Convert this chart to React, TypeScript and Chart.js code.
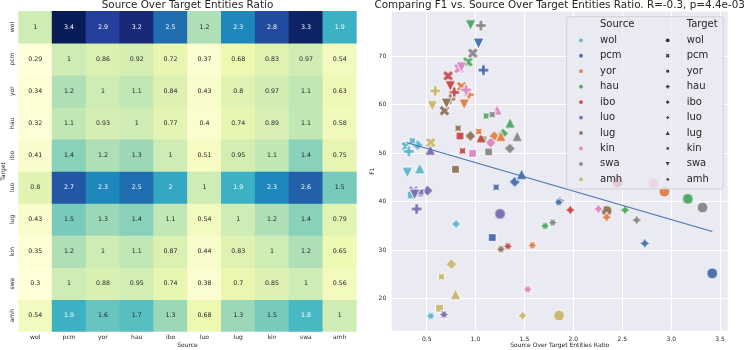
import React, { useEffect, useRef } from "react";
import { Chart, registerables } from "chart.js";

Chart.register(...registerables);

const FONT = '"DejaVu Sans", sans-serif';
const TEXT = "#262626";

const LANGS = ["wol", "pcm", "yor", "hau", "ibo", "luo", "lug", "kin", "swa", "amh"];

const HEAT_TITLE = "Source Over Target Entities Ratio";
const HEAT_X_TITLE = "Source";
const HEAT_Y_TITLE = "Target";
const SCATTER_TITLE = "Comparing F1 vs. Source Over Target Entities Ratio. R=-0.3, p=4.4e-03";
const SCATTER_X_TITLE = "Source Over Target Entities Ratio";
const SCATTER_Y_TITLE = "F1";

// Heatmap rows (Target) x columns (Source), annotated ratios
const heatWol = [1, 3.4, 2.9, 3.2, 2.5, 1.2, 2.3, 2.8, 3.3, 1.9];
const heatPcm = [0.29, 1, 0.86, 0.92, 0.72, 0.37, 0.68, 0.83, 0.97, 0.54];
const heatYor = [0.34, 1.2, 1, 1.1, 0.84, 0.43, 0.8, 0.97, 1.1, 0.63];
const heatHau = [0.32, 1.1, 0.93, 1, 0.77, 0.4, 0.74, 0.89, 1.1, 0.58];
const heatIbo = [0.41, 1.4, 1.2, 1.3, 1, 0.51, 0.95, 1.1, 1.4, 0.75];
const heatLuo = [0.8, 2.7, 2.3, 2.5, 2, 1, 1.9, 2.3, 2.6, 1.5];
const heatLug = [0.43, 1.5, 1.3, 1.4, 1.1, 0.54, 1, 1.2, 1.4, 0.79];
const heatKin = [0.35, 1.2, 1, 1.1, 0.87, 0.44, 0.83, 1, 1.2, 0.65];
const heatSwa = [0.3, 1, 0.88, 0.95, 0.74, 0.38, 0.7, 0.85, 1, 0.56];
const heatAmh = [0.54, 1.9, 1.6, 1.7, 1.3, 0.68, 1.3, 1.5, 1.8, 1];
const HEAT_ROWS = [heatWol, heatPcm, heatYor, heatHau, heatIbo, heatLuo, heatLug, heatKin, heatSwa, heatAmh];

// Scatter: for each source language, values indexed by target language (null = same language)
const ratioWol = [null, 0.292, 0.341, 0.317, 0.407, 0.8, 0.429, 0.352, 0.301, 0.541];
const f1Wol = [null, 51.4, 41.4, 50.4, 51.7, 35.4, 46.9, 52.6, 46.0, 16.4];
const ratioPcm = [3.42, null, 1.17, 1.08, 1.4, 2.73, 1.47, 1.21, 1.03, 1.85];
const f1Pcm = [25.2, null, 32.6, 67.2, 44.1, 31.4, 45.7, 43.0, 72.7, 39.9];
const ratioYor = [2.93, 0.857, null, 0.93, 1.191, 2.34, 1.258, 1.032, 0.883, 1.58];
const f1Yor = [42.1, 63.8, null, 62.1, 53.55, 36.8, 53.55, 54.5, 60.1, 31.0];
const ratioHau = [3.17, 0.921, 1.075, null, 1.28, 2.528, 1.352, 1.109, 0.949, 1.71];
const f1Hau = [40.6, 68.9, 52.8, null, 54.1, 38.3, 56.3, 57.7, 76.5, 35.0];
const ratioIbo = [2.45, 0.719, 0.84, 0.781, null, 1.968, 1.056, 0.866, 0.741, 1.33];
const f1Ibo = [44.0, 66.0, 53.6, 62.6, null, 38.3, 53.3, 50.5, 63.9, 30.8];
const ratioLuo = [1.25, 0.365, 0.427, 0.397, 0.508, null, 0.536, 0.44, 0.377, 0.676];
const f1Luo = [37.5, 42.2, 41.8, 38.5, 42.3, null, 50.7, 42.0, 41.5, 16.7];
const ratioLug = [2.34, 0.681, 0.795, 0.74, 0.947, 1.864, null, 0.82, 0.702, 1.259];
const f1Lug = [38.1, 58.8, 46.7, 61.2, 53.6, 40.2, null, 55.2, 60.3, 30.2];
const ratioKin = [2.82, 0.83, 0.969, 0.902, 1.154, 2.255, 1.219, null, 0.855, 1.533];
const f1Kin = [43.8, 67.5, 50.0, 63.1, 52.2, 38.5, 59.0, null, 67.8, 21.9];
const ratioSwa = [3.32, 0.971, 1.133, 1.054, 1.35, 2.647, 1.425, 1.169, null, 1.788];
const f1Swa = [38.8, 70.7, 50.3, 76.4, 51.0, 36.2, 53.55, 58.0, null, 35.7];
const ratioAmh = [1.853, 0.541, 0.631, 0.587, 0.752, 1.48, 0.794, 0.651, 0.557, null];
const f1Amh = [16.5, 52.2, 18.0, 62.9, 27.1, 16.45, 20.9, 24.5, 59.8, null];

const SOURCE_RATIOS = [ratioWol, ratioPcm, ratioYor, ratioHau, ratioIbo, ratioLuo, ratioLug, ratioKin, ratioSwa, ratioAmh];
const SOURCE_F1 = [f1Wol, f1Pcm, f1Yor, f1Hau, f1Ibo, f1Luo, f1Lug, f1Kin, f1Swa, f1Amh];

const X_TICKS = [0.5, 1.0, 1.5, 2.0, 2.5, 3.0, 3.5];
const Y_TICKS = [20, 30, 40, 50, 60, 70];

const SOURCE_COLORS = ["#64b5cd", "#4c72b0", "#dd8452", "#55a868", "#c44e52", "#8172b3", "#937860", "#da8bc3", "#8c8c8c", "#ccb974"];
const TARGET_MARKERS = ["o", "X", "s", "P", "D", "star4", "^", "star4x", "v", "star6"];

const YLGNBU = ["#ffffd9", "#edf8b1", "#c7e9b4", "#7fcdbb", "#41b6c4", "#1d91c0", "#225ea8", "#253494", "#081d58"];

function hexToRgb(h: string): number[] {
  const n = parseInt(h.slice(1), 16);
  return [(n >> 16) & 255, (n >> 8) & 255, n & 255];
}

function ylgnbu(t: number): number[] {
  const c = Math.min(1, Math.max(0, t)) * (YLGNBU.length - 1);
  const i = Math.min(Math.floor(c), YLGNBU.length - 2);
  const f = c - i;
  const a = hexToRgb(YLGNBU[i]);
  const b = hexToRgb(YLGNBU[i + 1]);
  return a.map((v, k) => Math.round(v + (b[k] - v) * f));
}

function luminance(rgb: number[]): number {
  const lin = rgb.map((v) => {
    const c = v / 255;
    return c <= 0.03928 ? c / 12.92 : Math.pow((c + 0.055) / 1.055, 2.4);
  });
  return 0.2126 * lin[0] + 0.7152 * lin[1] + 0.0722 * lin[2];
}

const X_FILLED = [[-1, -2], [0, -1], [1, -2], [2, -1], [1, 0], [2, 1], [1, 2], [0, 1], [-1, 2], [-2, 1], [-1, 0], [-2, -1]];
const P_FILLED = [[-1, -3], [1, -3], [1, -1], [3, -1], [3, 1], [1, 1], [1, 3], [-1, 3], [-1, 1], [-3, 1], [-3, -1], [-1, -1]];

function regularPts(n: number, r: number, rotDeg: number, star: boolean): number[][] {
  const pts: number[][] = [];
  const count = star ? 2 * n : n;
  for (let k = 0; k < count; k++) {
    const rr = star && k % 2 === 1 ? r * 0.5 : r;
    const a = Math.PI / 2 + (2 * Math.PI * k) / count + (rotDeg * Math.PI) / 180;
    pts.push([rr * Math.cos(a), -rr * Math.sin(a)]);
  }
  return pts;
}

function tracePoly(ctx: CanvasRenderingContext2D, pts: number[][]) {
  ctx.moveTo(pts[0][0], pts[0][1]);
  for (let i = 1; i < pts.length; i++) ctx.lineTo(pts[i][0], pts[i][1]);
  ctx.closePath();
}

function traceMarker(ctx: CanvasRenderingContext2D, shape: string, s: number) {
  const h = s / 2;
  ctx.beginPath();
  switch (shape) {
    case "o":
      ctx.arc(0, 0, h, 0, Math.PI * 2);
      ctx.closePath();
      break;
    case "X":
      tracePoly(ctx, X_FILLED.map(([x, y]) => [(x * s) / 4, (y * s) / 4]));
      break;
    case "P":
      tracePoly(ctx, P_FILLED.map(([x, y]) => [(x * s) / 6, (y * s) / 6]));
      break;
    case "s":
      tracePoly(ctx, regularPts(4, h, 45, false));
      break;
    case "D":
      tracePoly(ctx, regularPts(4, h, 0, false));
      break;
    case "^":
      tracePoly(ctx, [[0, -h], [-h, h], [h, h]]);
      break;
    case "v":
      tracePoly(ctx, [[0, h], [-h, -h], [h, -h]]);
      break;
    case "star4":
      tracePoly(ctx, regularPts(4, h, 0, true));
      break;
    case "star4x":
      tracePoly(ctx, regularPts(4, h, 45, true));
      break;
    case "star6":
      tracePoly(ctx, regularPts(6, h, 30, true));
      break;
  }
}

function makeMarkerCanvas(shape: string, color: string, s: number, edge: number): HTMLCanvasElement {
  const c = document.createElement("canvas");
  const dim = Math.ceil(s + 4);
  c.width = dim;
  c.height = dim;
  const g = c.getContext("2d") as CanvasRenderingContext2D;
  g.translate(dim / 2, dim / 2);
  traceMarker(g, shape, s);
  g.fillStyle = color;
  g.fill();
  if (edge > 0) {
    g.lineWidth = edge;
    g.strokeStyle = "#ffffff";
    g.lineJoin = "round";
    g.stroke();
  }
  return c;
}

function fmt(v: number): string {
  return String(v);
}

export default function App() {
  const heatRef = useRef<HTMLCanvasElement | null>(null);
  const scatRef = useRef<HTMLCanvasElement | null>(null);

  useEffect(() => {
    Chart.defaults.font.family = FONT;

    // ---------- Heatmap ----------
    const allVals = HEAT_ROWS.flat();
    const vmin = Math.min(...allVals);
    const vmax = Math.max(...allVals);
    const cellRgb = HEAT_ROWS.map((row) => row.map((v) => ylgnbu((v - vmin) / (vmax - vmin))));

    const heatDatasets = HEAT_ROWS.map((row, t) => ({
      label: LANGS[t],
      data: LANGS.map(() => [t, t + 1]),
      backgroundColor: cellRgb[t].map((c) => `rgb(${c[0]},${c[1]},${c[2]})`),
      borderWidth: 0,
      barPercentage: 1,
      categoryPercentage: 1,
      grouped: false,
    }));

    const heatTextPlugin = {
      id: "heatText",
      afterDraw(chart: any) {
        const ctx = chart.ctx as CanvasRenderingContext2D;
        const xs = chart.scales.x;
        const ys = chart.scales.y;
        const area = chart.chartArea;
        ctx.save();
        ctx.textAlign = "center";
        ctx.textBaseline = "middle";
        ctx.font = `6.3px ${FONT}`;
        HEAT_ROWS.forEach((row, t) => {
          const meta = chart.getDatasetMeta(t);
          meta.data.forEach((el: any, s: number) => {
            ctx.fillStyle = luminance(cellRgb[t][s]) > 0.408 ? TEXT : "#ffffff";
            ctx.fillText(fmt(row[s]), el.x, (el.y + el.base) / 2);
          });
        });
        ctx.fillStyle = TEXT;
        ctx.font = `6px ${FONT}`;
        LANGS.forEach((lab, i) => {
          ctx.fillText(lab, xs.getPixelForValue(i), area.bottom + 6);
        });
        LANGS.forEach((lab, i) => {
          ctx.save();
          ctx.translate(area.left - 5.5, ys.getPixelForValue(i + 0.5));
          ctx.rotate(-Math.PI / 2);
          ctx.fillText(lab, 0, 0);
          ctx.restore();
        });
        ctx.fillText(HEAT_X_TITLE, (area.left + area.right) / 2, area.bottom + 14);
        ctx.save();
        ctx.translate(area.left - 14.5, (area.top + area.bottom) / 2);
        ctx.rotate(-Math.PI / 2);
        ctx.fillText(HEAT_Y_TITLE, 0, 0);
        ctx.restore();
        ctx.font = `10.4px ${FONT}`;
        ctx.textBaseline = "alphabetic";
        ctx.fillText(HEAT_TITLE, (area.left + area.right) / 2, 8);
        ctx.restore();
      },
    };

    const heat = new Chart(heatRef.current as HTMLCanvasElement, {
      type: "bar",
      data: { labels: LANGS, datasets: heatDatasets as any },
      options: {
        animation: false,
        responsive: false,
        devicePixelRatio: 1,
        layout: { padding: { left: 18.3, right: 3.3, top: 11, bottom: 18.3 } },
        plugins: { legend: { display: false }, tooltip: { enabled: false } },
        scales: {
          x: { type: "category", display: false, offset: true },
          y: { type: "linear", min: 0, max: 10, reverse: true, display: false },
        },
      } as any,
      plugins: [heatTextPlugin],
    });

    // ---------- Scatter ----------
    const markerCache: Record<string, HTMLCanvasElement> = {};
    const getMarker = (shape: string, color: string) => {
      const key = shape + color;
      if (!markerCache[key]) markerCache[key] = makeMarkerCanvas(shape, color, 11, 1);
      return markerCache[key];
    };

    const points: { x: number; y: number }[] = [];
    const styles: HTMLCanvasElement[] = [];
    LANGS.forEach((_t, t) => {
      LANGS.forEach((_s, s) => {
        const x = SOURCE_RATIOS[s][t];
        const y = SOURCE_F1[s][t];
        if (x == null || y == null) return;
        points.push({ x, y });
        styles.push(getMarker(TARGET_MARKERS[t], SOURCE_COLORS[s]));
      });
    });

    // least-squares fit for the regression line
    const n = points.length;
    const mx = points.reduce((a, p) => a + p.x, 0) / n;
    const my = points.reduce((a, p) => a + p.y, 0) / n;
    let sxy = 0;
    let sxx = 0;
    points.forEach((p) => {
      sxy += (p.x - mx) * (p.y - my);
      sxx += (p.x - mx) * (p.x - mx);
    });
    const slope = sxy / sxx;
    const intercept = my - slope * mx;
    const xMin = Math.min(...points.map((p) => p.x));
    const xMax = Math.max(...points.map((p) => p.x));
    const fitPts = [
      { x: xMin, y: intercept + slope * xMin },
      { x: xMax, y: intercept + slope * xMax },
    ];

    const bgPlugin = {
      id: "bg",
      beforeDraw(chart: any) {
        const { ctx, chartArea } = chart;
        ctx.save();
        ctx.fillStyle = "#eaeaf2";
        ctx.fillRect(chartArea.left, chartArea.top, chartArea.right - chartArea.left, chartArea.bottom - chartArea.top);
        ctx.restore();
      },
    };

    const overlayPlugin = {
      id: "overlay",
      afterDraw(chart: any) {
        const ctx = chart.ctx as CanvasRenderingContext2D;
        const area = chart.chartArea;
        ctx.save();
        ctx.fillStyle = TEXT;
        ctx.font = `10.4px ${FONT}`;
        ctx.textAlign = "center";
        ctx.textBaseline = "alphabetic";
        ctx.fillText(SCATTER_TITLE, (area.left + area.right) / 2, 8);

        // legend box
        const bx = area.right - 161;
        const by = area.top + 5;
        const bw = 156.6;
        const bh = 172.3;
        const r = 2.5;
        ctx.beginPath();
        ctx.moveTo(bx + r, by);
        ctx.lineTo(bx + bw - r, by);
        ctx.arcTo(bx + bw, by, bx + bw, by + r, r);
        ctx.lineTo(bx + bw, by + bh - r);
        ctx.arcTo(bx + bw, by + bh, bx + bw - r, by + bh, r);
        ctx.lineTo(bx + r, by + bh);
        ctx.arcTo(bx, by + bh, bx, by + bh - r, r);
        ctx.lineTo(bx, by + r);
        ctx.arcTo(bx, by, bx + r, by, r);
        ctx.closePath();
        ctx.fillStyle = "rgba(234,234,242,0.8)";
        ctx.fill();
        ctx.strokeStyle = "rgba(204,204,204,0.8)";
        ctx.lineWidth = 1;
        ctx.stroke();

        const col1Marker = bx + 14.3;
        const col1Text = bx + 33.3;
        const col2Marker = bx + 101;
        const col2Text = bx + 120;
        const headY = by + 7.6;
        const row0 = by + 23.6;
        const step = 15.45;
        ctx.textAlign = "left";
        ctx.textBaseline = "middle";
        ctx.fillStyle = TEXT;
        ctx.font = `10px ${FONT}`;
        ctx.fillText("Source", col1Text, headY);
        ctx.fillText("Target", col2Text, headY);
        LANGS.forEach((lab, i) => {
          const y = row0 + i * step;
          ctx.save();
          ctx.translate(col1Marker, y);
          traceMarker(ctx, "o", 3.8);
          ctx.fillStyle = SOURCE_COLORS[i];
          ctx.fill();
          ctx.restore();
          ctx.save();
          ctx.translate(col2Marker, y);
          traceMarker(ctx, TARGET_MARKERS[i], 3.8);
          ctx.fillStyle = "#333333";
          ctx.fill();
          ctx.restore();
          ctx.fillStyle = TEXT;
          ctx.fillText(lab, col1Text, y);
          ctx.fillText(lab, col2Text, y);
        });
        ctx.restore();
      },
    };

    const scat = new Chart(scatRef.current as HTMLCanvasElement, {
      type: "scatter",
      data: {
        datasets: [
          {
            data: fitPts,
            showLine: true,
            borderColor: "#4c72b0",
            borderWidth: 1.2,
            pointRadius: 0,
            order: 0,
          },
          {
            data: points,
            pointStyle: styles,
            pointRadius: 5,
            order: 1,
          },
        ] as any,
      },
      options: {
        animation: false,
        responsive: false,
        devicePixelRatio: 1,
        layout: { padding: { left: 0, right: 19.3, top: 11.7, bottom: 0 } },
        plugins: { legend: { display: false }, tooltip: { enabled: false } },
        scales: {
          x: {
            type: "linear",
            min: 0.142,
            max: 3.578,
            afterBuildTicks: (sc: any) => {
              sc.ticks = X_TICKS.map((v) => ({ value: v }));
            },
            afterFit: (sc: any) => {
              sc.height = 19.3;
            },
            grid: { color: "#ffffff", lineWidth: 1, drawTicks: false },
            border: { display: false },
            ticks: {
              font: { family: FONT, size: 6 },
              color: TEXT,
              padding: 5,
              maxRotation: 0,
              autoSkip: false,
              callback: (v: any) => Number(v).toFixed(1),
            },
            title: {
              display: true,
              text: SCATTER_X_TITLE,
              font: { family: FONT, size: 6 },
              color: TEXT,
              padding: { top: 0, bottom: 0.7 },
            },
          },
          y: {
            type: "linear",
            min: 13.35,
            max: 79.26,
            afterBuildTicks: (sc: any) => {
              sc.ticks = Y_TICKS.map((v) => ({ value: v }));
            },
            afterFit: (sc: any) => {
              sc.width = 31.7;
            },
            grid: { color: "#ffffff", lineWidth: 1, drawTicks: false },
            border: { display: false },
            ticks: {
              font: { family: FONT, size: 6 },
              color: TEXT,
              padding: 5.5,
              autoSkip: false,
              callback: (v: any) => String(v),
            },
            title: {
              display: true,
              text: SCATTER_Y_TITLE,
              font: { family: FONT, size: 6 },
              color: TEXT,
              padding: { top: 9.1, bottom: 0 },
            },
          },
        },
      } as any,
      plugins: [bgPlugin, overlayPlugin],
    });

    return () => {
      heat.destroy();
      scat.destroy();
    };
  }, []);

  return (
    <div style={{ position: "fixed", left: 0, top: 0, width: 747, height: 350, background: "#ffffff", overflow: "hidden" }}>
      <canvas ref={heatRef} width={360} height={350} style={{ position: "absolute", left: 0, top: 0, width: 360, height: 350 }} />
      <canvas ref={scatRef} width={387} height={350} style={{ position: "absolute", left: 360, top: 0, width: 387, height: 350 }} />
    </div>
  );
}
